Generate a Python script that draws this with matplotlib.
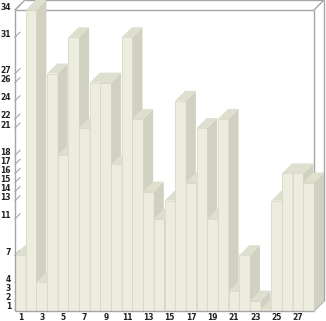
import numpy as np
import matplotlib as mpl
mpl.use('Agg')
import matplotlib.pyplot as pl
from matplotlib.patches import Rectangle, Polygon
from matplotlib.transforms import offset_copy

# data
bar_x = np.arange(1, 29)
bar_vals = [7, 34, 4, 27, 18, 31, 21, 26, 26, 17, 31, 22, 14, 11,
            13, 24, 15, 21, 11, 22, 3, 7, 2, 1, 13, 16, 16, 15]
y_ticks = [1, 2, 3, 4, 7, 11, 13, 14, 15, 16, 17, 18, 21, 22, 24, 26, 27, 31, 34]
x_ticks = list(range(1, 29, 2))

c_front = '#ededdf'
c_side = '#d1d1c1'
c_top = '#dfdfcf'
c_edge = '#d9d9c9'
c_frame = '#a6a6a6'

W, H = 326, 321
fig = pl.figure(figsize=(W / 100, H / 100), dpi=100)
ax = fig.add_axes([15 / W, (H - 311) / H, 299 / W, 301 / H])
ymin, ymax = 0.85, 34
xmin, xmax = 0.5, 28.5
ax.set_xlim(xmin, xmax)
ax.set_ylim(ymin, ymax)
ax.axis('off')

# depth of the 3d look, 10 px right and up
depth = 10
dx = depth * (xmax - xmin) / 299
dy = depth * (ymax - ymin) / 301
back = offset_copy(ax.transData, fig=fig, x=depth, y=depth, units='dots')

kw = dict(color=c_frame, lw=1.0, clip_on=False, solid_capstyle='butt')
# back box
ax.plot([xmin, xmax], [ymax, ymax], transform=back, zorder=1, **kw)
ax.plot([xmax, xmax], [ymax, ymin], transform=back, zorder=1, **kw)
# front box top / right
ax.plot([xmin, xmax], [ymax, ymax], zorder=1, **kw)
ax.plot([xmax, xmax], [ymin, ymax], zorder=1, **kw)
for (px, py) in [(xmin, ymax), (xmax, ymax), (xmax, ymin)]:
    ax.plot([px, px + dx], [py, py + dy], zorder=1, **kw)

# y ticks: small diagonal marks + labels
tick_tr = offset_copy(ax.transData, fig=fig, x=-4, y=3, units='dots')
for v in y_ticks:
    ax.plot([xmin, xmin + dx * 0.5], [v, v + dy * 0.5], color=c_frame,
            lw=0.8, clip_on=False, zorder=1)
    ax.text(xmin, v, str(v), transform=tick_tr, ha='right', va='center',
            fontsize=5.5, fontweight='bold', color='#222222')

# bars
for x, v in zip(bar_x, bar_vals):
    l, r = x - 0.5, x + 0.5
    ax.add_patch(Rectangle((l, ymin), 1, v - ymin, facecolor=c_front,
                           edgecolor=c_edge, lw=0.6, clip_on=False, zorder=2))
    ax.add_patch(Polygon([(r, ymin), (r, v), (r + dx, v + dy), (r + dx, ymin + dy)],
                         closed=True, facecolor=c_side, edgecolor='none',
                         clip_on=False, zorder=2))
    ax.add_patch(Polygon([(l, v), (r, v), (r + dx, v + dy), (l + dx, v + dy)],
                         closed=True, facecolor=c_top, edgecolor='none',
                         clip_on=False, zorder=2))

# left and bottom axis lines on top
ax.plot([xmin, xmin], [ymin, ymax], zorder=5, **kw)
ax.plot([xmin, xmax], [ymin, ymin], zorder=5, **kw)

xl_tr = offset_copy(ax.transData, fig=fig, x=0, y=-6, units='dots')
for x in x_ticks:
    ax.text(x, ymin, str(x), transform=xl_tr, ha='center', va='center',
            fontsize=5.5, fontweight='bold', color='#222222')

fig.savefig('out.png', dpi=100)
